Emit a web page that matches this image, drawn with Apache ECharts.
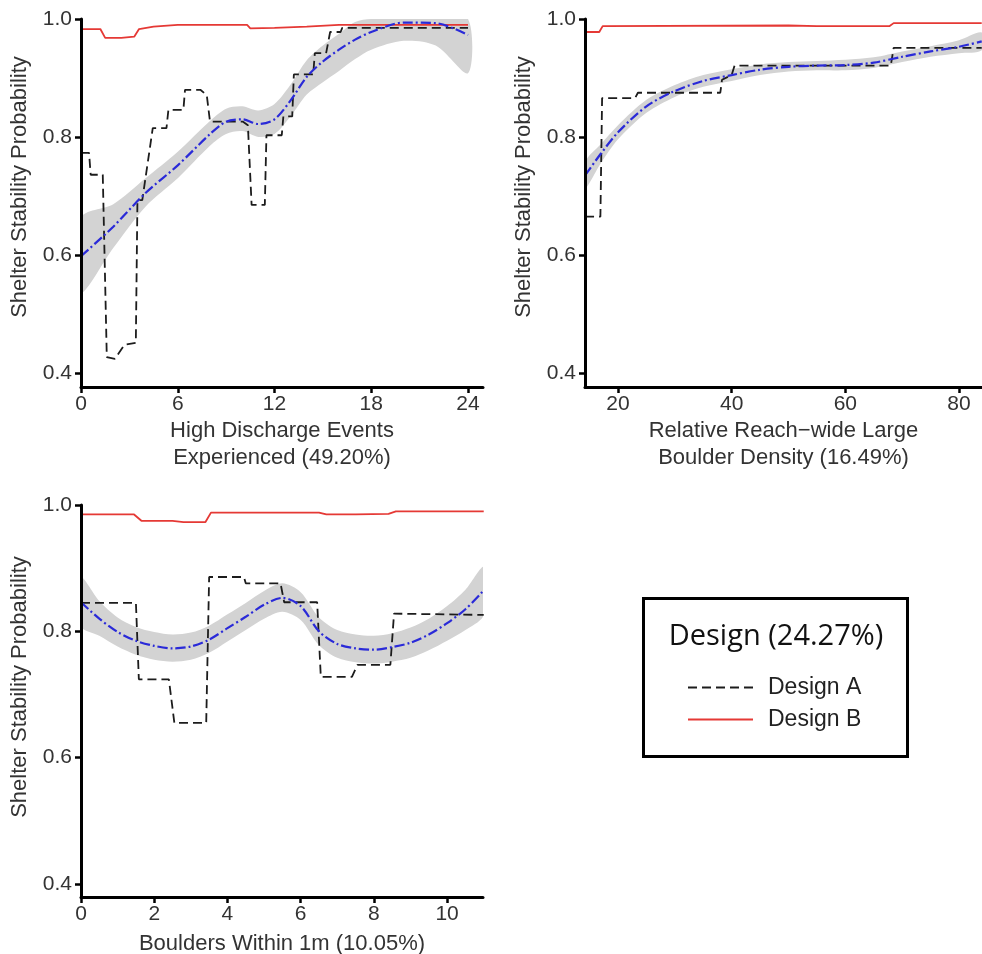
<!DOCTYPE html>
<html>
<head>
    <meta charset="UTF-8">
    <title>Shelter Stability Probability</title>
    <script src="https://cdn.jsdelivr.net/npm/echarts@6.0.0/dist/echarts.min.js"></script>
    <style>
        html, body { margin: 0; padding: 0; background: #fff; }
        #main { width: 982px; height: 954px; }
    </style>
</head>
<body>
<div id="main"></div>
<script type="text/javascript">
    // ---- panel 1: high discharge events ----
    var hdeTicks = [0, 6, 12, 18, 24];
    var hdeDesignA = [[0, 0.773], [0.5, 0.773], [0.6, 0.736], [1.35, 0.736], [1.6, 0.427], [2.1, 0.424], [2.7, 0.448], [3.4, 0.451],
        [3.5, 0.693], [3.8, 0.693], [4.45, 0.815], [5.3, 0.815], [5.42, 0.846], [6.35, 0.846], [6.45, 0.88], [7.4, 0.88],
        [7.8, 0.871], [8.0, 0.826], [10.05, 0.826], [10.35, 0.82], [10.58, 0.685], [11.4, 0.685], [11.5, 0.803], [12.45, 0.803],
        [12.55, 0.835], [13.1, 0.835], [13.2, 0.906], [14.4, 0.906], [14.5, 0.942], [15.2, 0.942], [15.45, 0.978], [16.1, 0.978],
        [16.2, 0.985], [24, 0.985]];
    var hdeDesignB = [[0, 0.983], [1.2, 0.983], [1.5, 0.968], [2.5, 0.968], [3.3, 0.97], [3.6, 0.983], [4.5, 0.987], [6, 0.99],
        [10.3, 0.99], [10.5, 0.984], [12, 0.985], [14, 0.987], [16, 0.99], [24, 0.99]];
    var hdeFitX = [0, 2, 4, 6, 8, 9, 10, 11, 12, 13, 14, 15, 16, 17, 18, 20, 22, 24];
    var hdeFit = [0.598, 0.648, 0.705, 0.752, 0.805, 0.826, 0.830, 0.822, 0.830, 0.862, 0.902, 0.928, 0.948, 0.965, 0.978, 0.994, 0.993, 0.973];
    var hdeLow = [0.537, 0.612, 0.682, 0.73, 0.785, 0.805, 0.81, 0.80, 0.805, 0.835, 0.872, 0.893, 0.912, 0.932, 0.948, 0.963, 0.955, 0.908];
    var hdeHigh = [0.663, 0.686, 0.73, 0.775, 0.827, 0.848, 0.852, 0.845, 0.856, 0.889, 0.93, 0.955, 0.975, 0.995, 1.0, 1.0, 1.0, 1.0];

    // ---- panel 2: relative reach-wide large boulder density ----
    var rbdTicks = [20, 40, 60, 80];
    var rbdDesignA = [[14.2, 0.665], [16.9, 0.665], [17.2, 0.866], [23, 0.866], [23.5, 0.875], [38, 0.875], [38.3, 0.897],
        [40, 0.905], [40.5, 0.921], [68, 0.921], [68.5, 0.951], [84, 0.951]];
    var rbdDesignB = [[14.2, 0.978], [16.7, 0.978], [17.3, 0.988], [50, 0.989], [55, 0.988], [67.8, 0.988], [68.5, 0.993], [84, 0.993]];
    var rbdFitX = [14.2, 17, 20, 25, 30, 35, 40, 45, 50, 55, 60, 65, 70, 75, 80, 84];
    var rbdFit = [0.735, 0.772, 0.808, 0.852, 0.878, 0.895, 0.905, 0.914, 0.919, 0.921, 0.922, 0.926, 0.936, 0.945, 0.953, 0.962];
    var rbdLow = [0.713, 0.756, 0.796, 0.841, 0.868, 0.885, 0.895, 0.905, 0.911, 0.913, 0.913, 0.917, 0.927, 0.936, 0.942, 0.947];
    var rbdHigh = [0.757, 0.788, 0.82, 0.863, 0.888, 0.905, 0.915, 0.923, 0.927, 0.929, 0.931, 0.935, 0.945, 0.954, 0.964, 0.977];

    // ---- panel 3: boulders within 1m ----
    var bwTicks = [0, 2, 4, 6, 8, 10];
    var bwDesignA = [[0, 0.845], [1.5, 0.845], [1.58, 0.724], [2.4, 0.724], [2.55, 0.655], [3.42, 0.655], [3.5, 0.886], [4.45, 0.886],
        [4.5, 0.876], [5.45, 0.876], [5.55, 0.846], [6.45, 0.846], [6.55, 0.728], [7.4, 0.728], [7.55, 0.747], [8.45, 0.747],
        [8.55, 0.828], [11, 0.826]];
    var bwDesignB = [[0, 0.985], [1.45, 0.985], [1.65, 0.975], [2.5, 0.975], [2.8, 0.973], [3.4, 0.973], [3.55, 0.988], [6.5, 0.988],
        [6.7, 0.985], [7.5, 0.985], [8.4, 0.986], [8.6, 0.99], [11, 0.99]];
    var bwFitX = [0, 0.5, 1, 1.5, 2, 2.5, 3, 3.5, 4, 4.5, 5, 5.5, 6, 6.5, 7, 7.5, 8, 8.5, 9, 9.5, 10, 10.5, 11];
    var bwFit = [0.846, 0.82, 0.799, 0.785, 0.777, 0.773, 0.776, 0.787, 0.805, 0.823, 0.842, 0.853, 0.84, 0.80, 0.78, 0.773, 0.771,
        0.775, 0.782, 0.795, 0.813, 0.835, 0.865];
    var bwLow = [0.808, 0.793, 0.776, 0.763, 0.755, 0.752, 0.755, 0.766, 0.784, 0.802, 0.82, 0.831, 0.818, 0.778, 0.758, 0.751, 0.749,
        0.752, 0.758, 0.77, 0.785, 0.802, 0.826];
    var bwHigh = [0.885, 0.848, 0.822, 0.807, 0.799, 0.795, 0.798, 0.809, 0.827, 0.845, 0.864, 0.876, 0.862, 0.822, 0.802, 0.795, 0.793,
        0.797, 0.806, 0.82, 0.84, 0.866, 0.902];

    var yTicks = [0.4, 0.6, 0.8, 1.0];
    var yName = 'Shelter Stability Probability';

    var FONT = "'Liberation Sans', Arial, sans-serif";
    var RED = '#e53935';
    var BLUE = '#2a2ad8';
    var DARK = '#1c1c1c';
    var BAND = '#d3d3d3';

    var myChart = echarts.init(document.getElementById('main'));

    function xAxisOf(gi, min, max, ticks, name, gap) {
        return {
            type: 'value', gridIndex: gi, min: min, max: max, z: 5,
            name: name, nameLocation: 'middle', nameGap: gap,
            nameTextStyle: { fontFamily: FONT, fontSize: 22, color: '#333', lineHeight: 27 },
            axisLine: { show: true, onZero: false, lineStyle: { color: '#000', width: 3 } },
            axisTick: { show: true, length: 6, customValues: ticks, lineStyle: { color: '#000', width: 2.5 } },
            axisLabel: { customValues: ticks, margin: 7, fontFamily: FONT, fontSize: 21, color: '#333' },
            splitLine: { show: false }
        };
    }

    function yAxisOf(gi, min, shift) {
        return {
            type: 'value', gridIndex: gi, min: min, max: 1.0, z: 5,
            name: yName, nameLocation: 'middle', nameGap: 50,
            nameTextStyle: { fontFamily: FONT, fontSize: 22, color: '#333', padding: [0, 0, 0, shift] },
            axisLine: { show: true, onZero: false, lineStyle: { color: '#000', width: 3 } },
            axisTick: { show: true, length: 6, customValues: yTicks, lineStyle: { color: '#000', width: 2.5 } },
            axisLabel: {
                customValues: yTicks, margin: 9, fontFamily: FONT, fontSize: 21, color: '#333',
                formatter: function (v) { return v.toFixed(1); }
            },
            splitLine: { show: false }
        };
    }

    function panelSeries(gi, fitX, fit, low, high, designA, designB) {
        return [
            {
                // confidence band around the smooth fit
                name: 'band', type: 'custom', xAxisIndex: gi, yAxisIndex: gi, clip: true, silent: true,
                data: [[fitX[0], low[0]]],
                renderItem: function (params, api) {
                    var pts = [];
                    for (var i = 0; i < fitX.length; i++) {
                        pts.push(api.coord([fitX[i], high[i]]));
                    }
                    for (var j = fitX.length - 1; j >= 0; j--) {
                        pts.push(api.coord([fitX[j], low[j]]));
                    }
                    return {
                        type: 'polygon',
                        shape: { points: pts, smooth: 0.3 },
                        style: { fill: BAND, stroke: null }
                    };
                }
            },
            {
                name: 'Design A', type: 'line', xAxisIndex: gi, yAxisIndex: gi, data: designA,
                symbol: 'none', lineStyle: { color: DARK, width: 1.8, type: [9, 5] }, itemStyle: { color: DARK }
            },
            {
                name: 'Design B', type: 'line', xAxisIndex: gi, yAxisIndex: gi, data: designB,
                symbol: 'none', lineStyle: { color: RED, width: 1.8 }, itemStyle: { color: RED }
            },
            {
                name: 'fit', type: 'line', xAxisIndex: gi, yAxisIndex: gi,
                data: fitX.map(function (x, i) { return [x, fit[i]]; }),
                symbol: 'none', smooth: 0.3, lineStyle: { color: BLUE, width: 2.2, type: [10, 3, 2, 3] }
            }
        ];
    }

    var option = {
        animation: false,
        backgroundColor: '#fff',
        grid: [
            { left: 81, top: 19, width: 402, height: 368, outerBoundsMode: 'none' },
            { left: 585, top: 19, width: 397, height: 368, outerBoundsMode: 'none' },
            { left: 81, top: 505, width: 402, height: 392, outerBoundsMode: 'none' }
        ],
        xAxis: [
            xAxisOf(0, 0, 24.93, hdeTicks, 'High Discharge Events\nExperienced (49.20%)', 30),
            xAxisOf(1, 14.19, 84.05, rbdTicks, 'Relative Reach\u2212wide Large\nBoulder Density (16.49%)', 30),
            xAxisOf(2, 0, 10.98, bwTicks, 'Boulders Within 1m (10.05%)', 33)
        ],
        yAxis: [
            yAxisOf(0, 0.3763, 32),
            yAxisOf(1, 0.3763, 32),
            yAxisOf(2, 0.3794, 28)
        ],
        legend: {
            data: ['Design A', 'Design B'],
            orient: 'vertical', left: 682, top: 671,
            itemWidth: 65, itemHeight: 14, itemGap: 9,
            itemStyle: { opacity: 0 },
            textStyle: { fontFamily: FONT, fontSize: 23, color: '#222', padding: [0, 0, 0, 10] },
            selectedMode: false
        },
        graphic: [
            {
                type: 'rect', left: 641, top: 596, z: 10,
                shape: { width: 264, height: 158 },
                style: { fill: 'none', stroke: '#000', lineWidth: 3 }
            },
            {
                type: 'text', x: 776, y: 637, z: 10,
                style: {
                    text: 'Design (24.27%)', fontFamily: "'Open Sans', 'Noto Sans', sans-serif", fontSize: 29,
                    fill: '#111', textAlign: 'center', textVerticalAlign: 'middle'
                }
            }
        ],
        series: [].concat(
            panelSeries(0, hdeFitX, hdeFit, hdeLow, hdeHigh, hdeDesignA, hdeDesignB),
            panelSeries(1, rbdFitX, rbdFit, rbdLow, rbdHigh, rbdDesignA, rbdDesignB),
            panelSeries(2, bwFitX, bwFit, bwLow, bwHigh, bwDesignA, bwDesignB)
        )
    };

    myChart.setOption(option);
</script>
</body>
</html>
